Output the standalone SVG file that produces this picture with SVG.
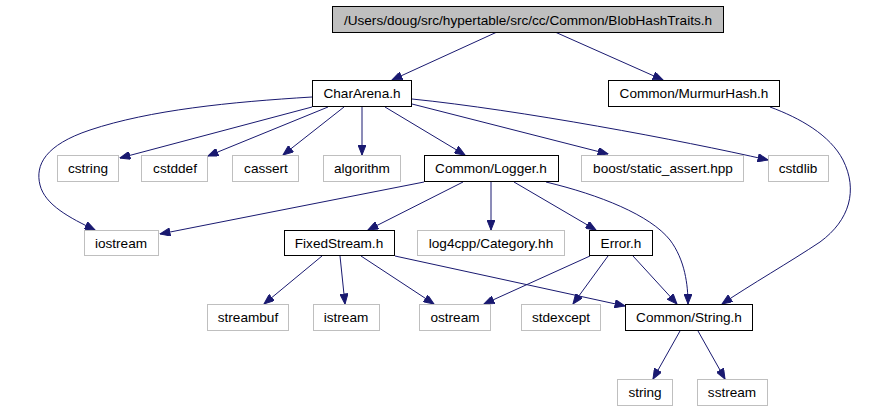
<svg xmlns="http://www.w3.org/2000/svg" width="885" height="411" viewBox="0 0 885 411">
<style>
text{font-family:"Liberation Sans",Arial,sans-serif;font-size:13.6px;fill:#000;text-anchor:middle}
.n{fill:#fff;stroke:#000;stroke-width:1}
.g{fill:#fff;stroke:#bfbfbf;stroke-width:1}
.t{fill:#bfbfbf;stroke:#000;stroke-width:1}
.e{fill:none;stroke:#191970;stroke-width:1;marker-end:url(#a)}
</style>
<defs>
<marker id="a" viewBox="0 0 10 8" markerWidth="11" markerHeight="8" refX="10" refY="4" orient="auto" markerUnits="userSpaceOnUse">
<path d="M0,0 L10,4 L0,8 z" fill="#191970" stroke="#191970" stroke-width="1"/>
</marker>
</defs>
<rect width="885" height="411" fill="#fff"/>
<g id="edges">
<path class="e" d="M497,32 L392,80"/>
<path class="e" d="M555,32 L663,80"/>
<path class="e" d="M312,97 C230,102 150,110 90,130 C45,145 35,165 40,185 C45,205 70,218 95,230"/>
<path class="e" d="M312,107 L120,158"/>
<path class="e" d="M328,107 L208,156"/>
<path class="e" d="M344,107 L283,155"/>
<path class="e" d="M362,107 L362,155"/>
<path class="e" d="M385,107 L465,155"/>
<path class="e" d="M412,104 L608,154"/>
<path class="e" d="M412,99 C520,110 680,140 768,160"/>
<path class="e" d="M770,107 C800,118 830,135 843,160 C858,190 850,220 820,242 C790,262 750,285 722,304"/>
<path class="e" d="M424,182 L160,234"/>
<path class="e" d="M463,182 L368,230"/>
<path class="e" d="M491,182 L491,230"/>
<path class="e" d="M514,182 L596,230"/>
<path class="e" d="M546,182 C600,195 650,215 670,240 C685,260 688,285 688,304"/>
<path class="e" d="M322,256 L264,304"/>
<path class="e" d="M340,256 L345,304"/>
<path class="e" d="M361,256 L434,304"/>
<path class="e" d="M395,256 L625,306"/>
<path class="e" d="M590,256 L484,304"/>
<path class="e" d="M608,256 L573,304"/>
<path class="e" d="M633,256 L677,304"/>
<path class="e" d="M680,331 L653,379"/>
<path class="e" d="M698,331 L725,379"/>
</g>
<g id="n_top"><rect class="t" x="332.5" y="6.5" width="391" height="26"/><text x="528" y="25">/Users/doug/src/hypertable/src/cc/Common/BlobHashTraits.h</text></g>
<g id="n_chararena"><rect class="n" x="312.5" y="80.5" width="99" height="26"/><text x="362" y="98">CharArena.h</text></g>
<g id="n_murmur"><rect class="n" x="608.5" y="80.5" width="171" height="26"/><text x="694" y="98">Common/MurmurHash.h</text></g>
<g id="n_cstring"><rect class="g" x="57.5" y="155.5" width="61" height="26"/><text x="88" y="173">cstring</text></g>
<g id="n_cstddef"><rect class="g" x="141.5" y="155.5" width="66" height="26"/><text x="175" y="173">cstddef</text></g>
<g id="n_cassert"><rect class="g" x="232.5" y="155.5" width="66" height="26"/><text x="266" y="173">cassert</text></g>
<g id="n_algorithm"><rect class="g" x="323.5" y="155.5" width="77" height="26"/><text x="362" y="173">algorithm</text></g>
<g id="n_logger"><rect class="n" x="424.5" y="155.5" width="134" height="26"/><text x="491" y="173">Common/Logger.h</text></g>
<g id="n_boost"><rect class="g" x="581.5" y="155.5" width="162" height="26"/><text x="663" y="173">boost/static_assert.hpp</text></g>
<g id="n_cstdlib"><rect class="g" x="768.5" y="155.5" width="60" height="26"/><text x="798" y="173">cstdlib</text></g>
<g id="n_iostream"><rect class="g" x="84.5" y="230.5" width="74" height="25"/><text x="121" y="248">iostream</text></g>
<g id="n_fixedstream"><rect class="n" x="284.5" y="230.5" width="110" height="25"/><text x="339" y="248">FixedStream.h</text></g>
<g id="n_log4cpp"><rect class="g" x="417.5" y="230.5" width="147" height="25"/><text x="491" y="248">log4cpp/Category.hh</text></g>
<g id="n_error"><rect class="n" x="589.5" y="230.5" width="63" height="25"/><text x="621" y="248">Error.h</text></g>
<g id="n_streambuf"><rect class="g" x="207.5" y="304.5" width="81" height="26"/><text x="248" y="322">streambuf</text></g>
<g id="n_istream"><rect class="g" x="313.5" y="304.5" width="66" height="26"/><text x="346" y="322">istream</text></g>
<g id="n_ostream"><rect class="g" x="419.5" y="304.5" width="71" height="26"/><text x="455" y="322">ostream</text></g>
<g id="n_stdexcept"><rect class="g" x="521.5" y="304.5" width="79" height="26"/><text x="561" y="322">stdexcept</text></g>
<g id="n_string_h"><rect class="n" x="625.5" y="304.5" width="127" height="26"/><text x="689" y="322">Common/String.h</text></g>
<g id="n_string"><rect class="g" x="617.5" y="379.5" width="55" height="26"/><text x="645" y="397">string</text></g>
<g id="n_sstream"><rect class="g" x="697.5" y="379.5" width="70" height="26"/><text x="732" y="397">sstream</text></g>
</svg>
